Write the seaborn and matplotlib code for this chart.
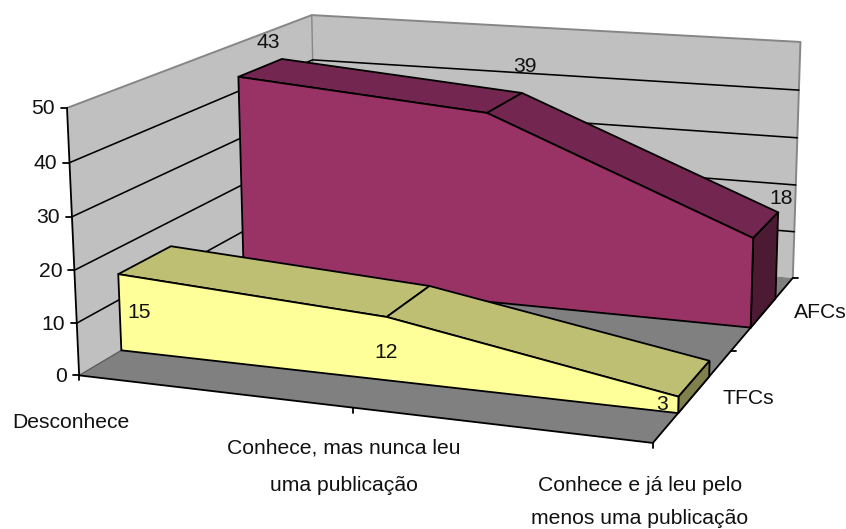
import numpy as np
import pandas as pd
import matplotlib
matplotlib.use("Agg")
import matplotlib.pyplot as plt
import seaborn as sns

# ---- data ----
categories = ["Desconhece", "Conhece, mas nunca leu\numa publicação",
              "Conhece e já leu pelo\nmenos uma publicação"]
series_names = ["TFCs", "AFCs"]
tfcs = [15, 12, 3]
afcs = [43, 39, 18]
value_ticks = [0, 10, 20, 30, 40, 50]

# ---- style ----
sns.set_theme(style="white")
plt.rcParams["font.family"] = ["Liberation Sans", "DejaVu Sans"]
FS = 15.2
INK = "#111111"
WALL, FLOOR, EDGE = "#C0C0C0", "#808080", "#868686"
COL = {"TFCs": ("#FFFF99", "#BFBF73", "#80804D"),
       "AFCs": ("#993366", "#732650", "#4D1A33")}
LW = 1.3

# ---- projective scale: (category, depth, value) -> canvas pixels, calibrated on the plot box ----
box_world = [(0, 0, 0), (0, 0, 40), (0, 0, 50), (2, 0, 0), (2, 1, 0), (2, 1, 40), (2, 1, 50), (0, 1, 50), (0, 1, 40)]
box_pixel = [(79, 375), (69.5, 163), (67, 108), (653, 443), (793, 278), (798, 90), (801, 42), (312, 14), (312.5, 61)]
rows, rhs = [], []
for (X, Y, Z), (u, v) in zip(box_world, box_pixel):
    rows.append([X, Y, Z, 1, 0, 0, 0, 0, -u * X, -u * Y, -u * Z]); rhs.append(u)
    rows.append([0, 0, 0, 0, X, Y, Z, 1, -v * X, -v * Y, -v * Z]); rhs.append(v)
h = np.linalg.lstsq(np.array(rows, float), np.array(rhs, float), rcond=None)[0]
P = np.append(h, 1).reshape(3, 4)


def proj(x, d, z):
    q = P @ np.array([x, d, z, 1.0])
    return q[0] / q[2], q[1] / q[2]


fig = plt.figure(figsize=(8.46, 5.29), dpi=100)
ax = fig.add_axes([0, 0, 1, 1])
ax.set_xlim(0, 846)
ax.set_ylim(529, 0)
ax.axis("off")


def poly(points, color, edge=None, z=1, lw=LW):
    xy = [proj(*p) for p in points]
    ax.fill(*zip(*xy), facecolor=color, edgecolor=edge if edge else "none",
            linewidth=lw if edge else 0, zorder=z, joinstyle="miter")


def line(points, color="black", z=2, lw=LW):
    xy = np.array([proj(*p) for p in points])
    sns.lineplot(x=xy[:, 0], y=xy[:, 1], ax=ax, color=color, linewidth=lw,
                 sort=False, estimator=None, zorder=z, legend=False)


xmax = len(categories) - 1
vmax = value_ticks[-1]

# walls and floor
poly([(0, 0, 0), (0, 1, 0), (0, 1, vmax), (0, 0, vmax)], WALL, z=1)
poly([(0, 1, 0), (xmax, 1, 0), (xmax, 1, vmax), (0, 1, vmax)], WALL, z=1)
poly([(0, 0, 0), (xmax, 0, 0), (xmax, 1, 0), (0, 1, 0)], FLOOR, z=1)
line([(0, 0, vmax), (0, 1, vmax), (xmax, 1, vmax), (xmax, 1, 0)], EDGE, z=1.5, lw=1.4)
line([(0, 1, vmax), (0, 1, 0)], EDGE, z=1.5, lw=1.0)
line([(0, 0, 0), (0, 1, 0)], "#5a5a5a", z=1.5, lw=0.9)
for v in value_ticks[1:-1]:
    line([(0, 0, v), (0, 1, v), (xmax, 1, v)], "black", z=1.6, lw=1.15)

# axes
line([(0, 0, vmax), (0, 0, 0), (xmax, 0, 0), (xmax, 1, 0)], "black", z=1.8)
for v in value_ticks:
    px, py = proj(0, 0, v)
    ax.plot([px - 6, px], [py, py], color="black", lw=LW, zorder=2)
    ax.text(px - 12, py + 1, str(v), ha="right", va="center", fontsize=FS, color=INK)
for i in range(xmax + 1):
    px, py = proj(i, 0, 0)
    ax.plot([px, px], [py, py + 5], color="black", lw=LW, zorder=2)
for d in (0.5, 1.0):
    px, py = proj(xmax, d, 0)
    ax.plot([px, px + 5], [py, py], color="black", lw=LW, zorder=2)

# ribbons, back series first
depth_spans = {"TFCs": (0.15, 0.35), "AFCs": (0.65, 0.85)}
for name, vals, zb in [("AFCs", afcs, 3), ("TFCs", tfcs, 5)]:
    front, top, side = COL[name]
    d0, d1 = depth_spans[name]
    n = len(vals)
    poly([(i, d0, vals[i]) for i in range(n)] + [(xmax, d0, 0), (0, d0, 0)], front, "black", zb + 1)
    for i in range(n - 1):
        poly([(i, d0, vals[i]), (i + 1, d0, vals[i + 1]), (i + 1, d1, vals[i + 1]), (i, d1, vals[i])],
             top, "black", zb)
    poly([(xmax, d0, 0), (xmax, d1, 0), (xmax, d1, vals[-1]), (xmax, d0, vals[-1])], side, "black", zb)

# value labels
label_xy = {"TFCs": [(139, 312), (386, 352), (662, 404)], "AFCs": [(268, 43), (525, 66), (781, 199)]}
for name, vals in zip(series_names, (tfcs, afcs)):
    for v, (lx, ly) in zip(vals, label_xy[name]):
        ax.text(lx, ly, str(v), ha="center", va="center", fontsize=FS, color=INK, zorder=9)

# category labels
cat_xy = [(71, 422), (344, 467), (640, 502)]
cat_spacing = [1.0, 2.25, 1.9]
for c, (lx, ly), sp in zip(categories, cat_xy, cat_spacing):
    ax.text(lx, ly, c, ha="center", va="center", fontsize=FS, color=INK,
            linespacing=sp, multialignment="center")
for s, (lx, ly) in zip(series_names, [(748, 398), (820, 313)]):
    ax.text(lx, ly, s, ha="center", va="center", fontsize=FS, color=INK)

fig.savefig("out.png", dpi=100, facecolor="white")
